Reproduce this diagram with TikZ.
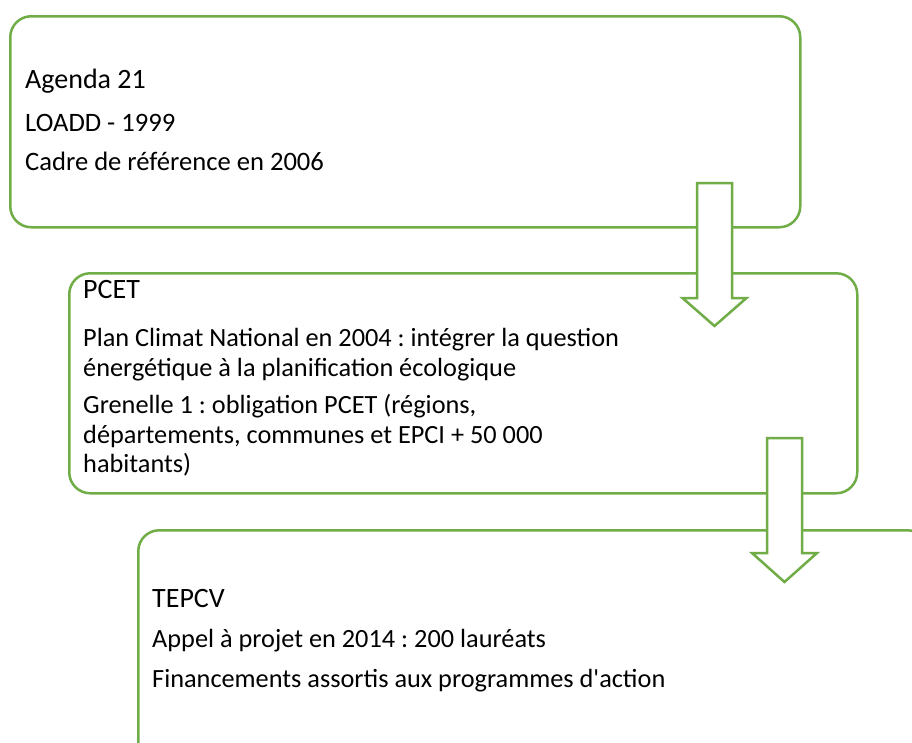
\documentclass[tikz,border=0pt]{standalone}
\usepackage{fontspec}
\setmainfont{Carlito}
\definecolor{ogreen}{HTML}{70AD47}
\frenchspacing
\begin{document}
\begin{tikzpicture}[x=1pt,y=-1pt,
  box/.style={draw=ogreen, line width=2.5pt, rounded corners=21pt, fill=white, inner sep=0pt, anchor=north west},
  harrow/.style={draw=ogreen, line width=2.5pt, fill=white, line join=miter},
  ttl/.style={anchor=base west, inner sep=0pt, font=\fontsize{28}{32}\selectfont},
  txt/.style={anchor=base west, inner sep=0pt, font=\fontsize{26.3}{30}\selectfont},
  txtb/.style={anchor=base west, inner sep=0pt, font=\fontsize{26.6}{30}\selectfont}]
\useasboundingbox (0,0) rectangle (912,742);
\clip (0,0) rectangle (912,742);
\fill[white] (0,0) rectangle (912,742);
% boxes
\node[box, minimum width=790pt, minimum height=211pt] (b1) at (9,15) {};
\node[box, minimum width=788pt, minimum height=220pt] (b2) at (68,272) {};
\node[box, minimum width=790pt, minimum height=232pt] (b3) at (137,529) {};
% arrows
\coordinate (a1) at (714.5,183);
\coordinate (a2) at (784.5,438);
\draw[harrow] (a1) ++(-17.5,0) -- ++(35,0) -- ++(0,115) -- ++(14.5,0) -- ++(-32,28) -- ++(-32,-28) -- ++(14.5,0) -- cycle;
\draw[harrow] (a2) ++(-17.5,0) -- ++(35,0) -- ++(0,115) -- ++(15,0) -- ++(-32.5,29) -- ++(-32.5,-29) -- ++(15,0) -- cycle;
% texts box 1
\node[ttl] (t1) at (25,88) {Agenda 21};
\node[txtb] (t1a) at (25,131) {LOADD - 1999};
\node[txtb] (t1b) at (25,170) {Cadre de référence en 2006};
% texts box 2
\node[ttl] (t2) at (83,298) {PCET};
\node[txt] (t2a) at (83,346) {Plan Climat National en 2004 : intégrer la question};
\node[txt] (t2b) at (83,376) {énergétique à la planification écologique};
\node[txt] (t2c) at (83,413) {Grenelle 1 : obligation PCET (régions,};
\node[txt] (t2d) at (83,443) {départements, communes et EPCI + 50 000};
\node[txt] (t2e) at (83,472) {habitants)};
% texts box 3
\node[ttl] (t3) at (152,607) {TEPCV};
\node[txt] (t3a) at (152,647) {Appel à projet en 2014 : 200 lauréats};
\node[txt] (t3b) at (152,687) {Financements assortis aux programmes d\textquotesingle action};
\end{tikzpicture}
\end{document}
